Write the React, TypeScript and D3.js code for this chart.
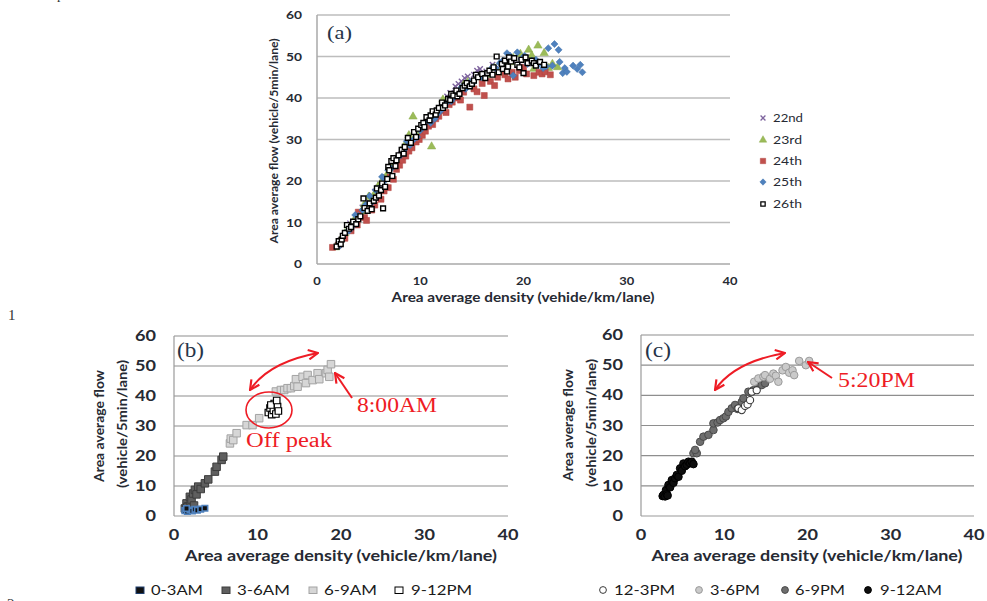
import React from 'react';
import * as d3 from 'd3';

type P = [number, number];

const xTicks = [0, 10, 20, 30, 40];
const yTicks = [0, 10, 20, 30, 40, 50, 60];

// ---------- Panel (a): days ----------
const dayLabels = ['22nd', '23rd', '24th', '25th', '26th'];
const day22: P[] = [[2.0,4.6],[2.3,5.8],[2.6,6.8],[3.2,9.8],[3.5,9.8],[3.9,11.2],[4.1,11.9],[4.4,13.6],[4.7,14.8],[5.0,15.0],[5.3,16.6],[5.6,17.4],[5.9,18.4],[6.1,19.2],[6.4,20.4],[6.7,21.0],[7.0,22.2],[7.2,23.4],[7.5,24.4],[7.8,25.0],[8.1,26.4],[8.3,27.6],[8.6,28.4],[8.9,29.0],[9.2,30.2],[9.5,31.2],[9.8,31.6],[10.0,32.4],[10.3,33.6],[10.6,34.2],[11.0,34.8],[11.2,35.6],[11.5,36.6],[11.8,37.4],[12.3,38.6],[12.6,40.4],[12.9,41.2],[13.4,42.8],[13.7,43.4],[14.0,44.0],[14.3,44.8],[14.6,45.2],[15.2,45.6],[15.5,46.6],[15.8,47.0],[16.1,45.6],[16.4,46.4],[17.0,48.0],[17.3,46.4],[17.6,47.2],[18.0,47.6],[18.3,48.6],[18.9,49.4],[19.6,48.2],[20.3,49.6],[21.0,48.4]];
const day23: P[] = [[1.8,4.0],[2.1,5.2],[2.4,6.2],[2.7,7.4],[3.0,8.2],[3.3,9.6],[3.6,10.6],[3.9,11.4],[4.3,12.6],[4.6,14.4],[5.0,16.2],[5.3,15.6],[5.6,17.0],[5.9,18.6],[6.2,19.6],[6.5,20.4],[6.8,21.6],[7.0,23.2],[7.3,24.2],[7.6,24.0],[7.9,25.2],[8.2,26.6],[8.5,28.6],[8.9,31.0],[9.3,35.5],[9.8,31.4],[10.1,32.4],[10.4,33.6],[10.8,34.2],[11.1,28.3],[11.5,36.2],[11.8,37.0],[12.2,39.6],[12.5,39.0],[12.9,40.2],[13.3,40.8],[13.6,41.2],[14.2,43.2],[14.6,43.8],[15.0,43.0],[15.8,45.2],[16.1,44.8],[16.5,45.6],[17.2,47.2],[17.5,46.0],[17.8,46.6],[18.4,48.2],[18.7,48.6],[19.0,49.6],[19.7,50.6],[20.0,49.4],[20.5,51.6],[20.8,50.2],[21.4,52.6],[22.0,50.8],[21.0,47.0],[22.4,47.2],[22.8,48.2],[23.3,47.4]];
const day24: P[] = [[1.5,4.0],[2.1,4.6],[2.7,6.2],[3.3,8.0],[3.9,9.4],[4.0,12.5],[4.6,11.2],[4.8,10.5],[5.3,13.0],[5.6,14.2],[5.9,16.0],[6.2,15.6],[6.5,17.6],[6.9,18.4],[7.1,21.0],[7.4,20.4],[7.7,22.8],[8.0,23.8],[8.3,25.0],[8.6,26.0],[8.9,27.2],[9.2,28.0],[9.6,29.4],[9.9,30.0],[10.2,31.0],[10.5,32.0],[10.8,33.2],[11.2,33.6],[11.5,35.0],[11.8,35.6],[12.1,37.0],[12.5,36.5],[12.8,38.4],[13.1,39.0],[13.5,40.0],[13.9,39.5],[14.8,37.8],[14.2,41.4],[15.2,42.2],[15.5,41.5],[16.0,43.5],[16.2,40.6],[16.8,44.0],[17.2,43.0],[17.5,45.0],[18.2,45.6],[18.5,44.6],[18.9,46.2],[19.2,45.0],[19.6,46.6],[20.0,47.4],[20.3,45.8],[21.0,45.4],[21.5,46.2],[21.8,45.8],[22.1,46.3],[22.6,45.6]];
const day25: P[] = [[2.2,4.4],[2.8,7.6],[3.1,8.0],[3.4,9.0],[3.7,11.8],[4.0,11.6],[4.4,13.0],[4.7,14.2],[5.1,16.4],[5.4,15.0],[5.7,17.8],[6.0,18.2],[6.3,21.0],[6.6,20.2],[6.9,22.6],[7.2,23.0],[7.5,24.8],[7.8,25.6],[8.1,26.2],[8.4,27.4],[8.7,29.6],[9.0,28.6],[9.3,29.8],[9.7,30.6],[10.0,32.2],[10.3,33.0],[10.7,34.6],[11.0,34.0],[11.4,35.0],[11.7,36.2],[12.0,37.0],[12.3,38.4],[12.6,39.0],[13.0,39.2],[13.3,40.2],[13.7,41.0],[14.0,42.6],[14.4,42.2],[14.8,43.8],[15.1,43.6],[15.5,45.2],[15.9,45.0],[16.2,45.0],[16.6,46.2],[17.0,47.4],[17.3,47.2],[17.7,48.4],[18.0,49.0],[18.4,50.8],[18.7,50.2],[19.0,45.4],[19.4,51.0],[19.8,49.4],[20.1,50.2],[20.4,48.2],[20.8,49.0],[21.2,49.2],[21.5,48.2],[21.9,47.2],[22.2,47.6],[22.4,52.0],[22.8,47.8],[23.0,53.0],[23.4,51.6],[23.5,48.7],[23.8,46.0],[24.0,47.2],[24.2,46.3],[24.8,47.8],[25.2,47.0],[25.5,48.0],[25.7,46.2]];
const day26: P[] = [[1.9,4.2],[2.1,5.5],[2.3,4.8],[2.4,5.9],[2.5,6.8],[2.7,7.5],[2.9,9.4],[3.1,8.5],[3.3,8.9],[3.5,10.2],[3.8,9.6],[4.0,10.8],[4.2,11.5],[4.5,15.8],[4.6,13.5],[4.9,12.8],[5.1,14.6],[5.3,13.2],[5.5,15.2],[5.7,16.0],[5.8,18.2],[6.0,16.5],[6.2,17.8],[6.4,13.4],[6.3,19.4],[6.6,18.6],[6.8,20.5],[6.9,23.4],[7.0,22.6],[7.2,24.8],[7.4,25.5],[7.3,21.2],[7.6,23.6],[7.7,25.0],[7.9,26.2],[8.2,27.5],[8.4,26.6],[8.5,28.2],[8.8,30.4],[9.1,29.2],[9.4,31.8],[9.6,30.6],[9.8,32.6],[10.1,33.5],[10.3,34.0],[10.4,33.0],[10.6,35.4],[10.9,34.6],[11.0,35.8],[11.2,36.8],[11.5,36.0],[11.6,37.0],[11.8,37.6],[12.1,38.9],[12.2,37.6],[12.4,38.2],[12.7,39.8],[12.9,39.5],[13.0,41.0],[13.2,40.6],[13.5,41.8],[13.6,40.4],[13.8,41.0],[14.1,42.4],[14.3,43.0],[14.5,43.6],[14.8,42.8],[15.0,43.4],[15.2,44.2],[15.4,45.6],[15.6,45.0],[16.0,45.8],[16.3,44.8],[16.5,46.0],[16.7,46.6],[17.0,45.6],[17.1,47.4],[17.4,50.0],[17.6,46.2],[17.9,48.2],[18.0,47.0],[18.2,49.0],[18.4,46.4],[18.5,47.6],[18.6,49.8],[18.8,48.8],[19.1,49.6],[19.4,48.0],[19.6,47.4],[19.8,49.2],[20.0,46.0],[20.2,49.8],[20.4,48.4],[20.8,49.0],[21.0,48.4],[21.2,47.8],[21.6,48.7],[22.0,48.0]];

// ---------- Panel (b): morning ----------
const amLabels = ['0-3AM', '3-6AM', '6-9AM', '9-12PM'];
const am0_3: P[] = [[1.3,1.8],[1.6,1.5],[1.9,2.0],[2.2,1.7],[2.5,2.2],[2.8,1.9],[1.5,2.5],[3.2,2.3],[3.7,2.6]];
const am3_6: P[] = [[1.3,2.5],[1.5,4.2],[1.7,3.2],[1.6,3.0],[2.0,4.8],[1.9,6.4],[2.1,5.5],[2.4,3.5],[2.3,7.5],[2.5,8.7],[2.7,7.2],[2.9,9.8],[3.2,9.0],[3.7,10.9],[4.1,12.2],[4.9,14.8],[5.1,16.4],[5.7,18.7],[5.9,19.8]];
const am6_9: P[] = [[6.7,24.2],[6.8,25.8],[7.1,25.3],[7.5,27.6],[8.7,30.3],[9.4,30.3],[10.2,32.6],[12.2,41.5],[12.8,42.0],[13.2,42.0],[13.6,42.6],[14.0,42.6],[14.4,43.3],[14.6,45.6],[14.8,43.1],[15.4,46.4],[15.8,44.3],[16.0,47.0],[16.6,45.3],[17.2,47.6],[17.4,45.6],[18.2,47.6],[18.4,48.7],[18.6,46.4],[18.8,50.6]];
const am9_12: P[] = [[11.3,34.5],[11.5,36.0],[11.7,33.8],[11.9,35.2],[12.0,37.5],[12.2,34.0],[12.4,36.5],[12.5,35.0],[11.6,37.0],[12.3,38.5]];

// ---------- Panel (c): afternoon ----------
const pmLabels = ['12-3PM', '3-6PM', '6-9PM', '9-12AM'];
const pm12_3: P[] = [[11.7,35.7],[12.1,35.1],[12.5,36.5],[12.8,37.0],[13.1,38.4],[13.3,41.2],[13.9,41.7]];
const pm3_6: P[] = [[13.6,44.5],[14.1,45.6],[14.7,46.2],[14.9,46.7],[15.5,45.5],[15.9,47.2],[16.2,46.5],[16.5,44.5],[17.0,48.3],[17.4,49.4],[17.8,47.5],[18.2,48.3],[18.4,46.7],[19.0,51.4],[19.8,50.0],[20.2,51.4]];
const pm6_9: P[] = [[6.3,20.8],[6.7,20.8],[6.5,21.9],[7.1,24.6],[7.5,26.3],[8.1,26.9],[8.7,28.5],[8.7,30.7],[9.2,31.0],[9.5,31.8],[9.9,32.4],[10.2,33.0],[10.5,34.5],[10.9,35.7],[11.3,36.8],[11.6,35.5],[12.1,37.8],[12.3,39.0],[12.9,41.2],[13.5,41.7],[14.1,43.4],[14.5,43.4],[14.9,44.0]];
const am9_12c: P[] = [[2.6,6.6],[2.7,7.0],[2.9,6.5],[3.0,8.6],[3.1,7.2],[3.2,6.8],[3.3,10.3],[3.5,9.5],[3.7,11.9],[3.9,11.0],[4.1,12.5],[4.3,13.6],[4.5,13.0],[4.7,15.8],[4.9,15.0],[5.1,17.4],[5.3,16.5],[5.5,17.0],[5.7,18.0],[5.9,17.5],[6.1,18.0],[6.3,17.2]];

const SANS = "Lato, 'Open Sans', sans-serif";
const SERIF = "'Liberation Serif', 'DejaVu Serif', serif";
const RED = '#ee1c25';
const INK = '#262a33';

const sq = (s: number) => d3.symbol().type(d3.symbolSquare).size(s * s)() as string;
const tri = d3.symbol().type(d3.symbolTriangle).size(30)() as string;
const cross = 'M-2.7,-2.7L2.7,2.7M-2.7,2.7L2.7,-2.7';

function T(props: any) {
  const { x, y, children, size = 12, weight = 700, anchor = 'start', len, fill = INK, family = SANS, rotate } = props;
  return (
    <text
      x={x}
      y={y}
      fontSize={size}
      fontWeight={weight}
      textAnchor={anchor}
      fill={fill}
      fontFamily={family}
      textLength={len}
      lengthAdjust={len ? 'spacingAndGlyphs' : undefined}
      transform={rotate ? `rotate(-90 ${x} ${y})` : undefined}
    >
      {children}
    </text>
  );
}

function Frame(props: any) {
  const { x, y, grid, gridW, axis, tickSize, xPer, yPer, xTickY, yTickX, yDy } = props;
  const [x0, x1] = x.range();
  return (
    <g>
      {yTicks.map((t) => (
        <line key={'g' + t} x1={x0} x2={x1} y1={y(t)} y2={y(t)} stroke={t === 0 ? axis : grid} strokeWidth={gridW} />
      ))}
      <line x1={x0} x2={x0} y1={y(60)} y2={y(0)} stroke={axis} strokeWidth={gridW} />
      {yTicks.map((t) => (
        <T key={'y' + t} x={yTickX} y={y(t) + yDy} size={tickSize} anchor="end" len={String(t).length * yPer}>{t}</T>
      ))}
      {xTicks.map((t) => (
        <T key={'x' + t} x={x(t)} y={xTickY} size={tickSize} anchor="middle" len={String(t).length * xPer}>{t}</T>
      ))}
    </g>
  );
}

function Pts(props: any) {
  const { data, x, y, d, fill, stroke, sw = 1, rot = 0 } = props;
  return (
    <g>
      {data.map((p: P, i: number) => (
        <path key={i} d={d} fill={fill} stroke={stroke} strokeWidth={sw}
          transform={`translate(${x(p[0])},${y(p[1])})${rot ? ` rotate(${rot})` : ''}`} />
      ))}
    </g>
  );
}

function Circ(props: any) {
  const { data, x, y, r, fill, stroke, sw = 1 } = props;
  return (
    <g>
      {data.map((p: P, i: number) => (
        <circle key={i} cx={x(p[0])} cy={y(p[1])} r={r} fill={fill} stroke={stroke} strokeWidth={sw} />
      ))}
    </g>
  );
}

export default function App() {
  const xA = d3.scaleLinear().domain([0, 40]).range([317, 730]);
  const yA = d3.scaleLinear().domain([0, 60]).range([264, 15]);
  const xB = d3.scaleLinear().domain([0, 40]).range([174, 508]);
  const yB = d3.scaleLinear().domain([0, 60]).range([516, 336]);
  const xC = d3.scaleLinear().domain([0, 40]).range([641, 974]);
  const yC = d3.scaleLinear().domain([0, 60]).range([516, 335]);

  const daySeries = [
    { data: day22, d: cross, fill: 'none', stroke: '#7e649e', sw: 1.4, rot: 0 },
    { data: day23, d: tri, fill: '#9bbb59', stroke: '#8aab48', sw: 0.5, rot: 0 },
    { data: day24, d: sq(6), fill: '#c0504d', stroke: '#b0403d', sw: 0.5, rot: 0 },
    { data: day25, d: sq(5), fill: '#4f81bd', stroke: '#4072ae', sw: 0.5, rot: 45 },
    { data: day26, d: sq(4.8), fill: '#ffffff', stroke: '#000000', sw: 1.4, rot: 0 },
  ];
  const legendA = [118, 140, 161, 182, 204];

  const amStyles = [
    { fill: '#111111', stroke: '#4f81bd' },
    { fill: '#5f5f5f', stroke: '#3c3c3c' },
    { fill: '#d6d6d6', stroke: '#a3a3a3' },
    { fill: '#ffffff', stroke: '#000000' },
  ];
  const pmStyles = [
    { fill: '#ffffff', stroke: '#3a3a3a' },
    { fill: '#cacaca', stroke: '#9a9a9a' },
    { fill: '#6e6e6e', stroke: '#4a4a4a' },
    { fill: '#0e0e0e', stroke: '#000000' },
  ];
  const amLeg = [{ m: 140, t: 151, w: 52 }, { m: 226, t: 237, w: 53 }, { m: 313, t: 324, w: 53 }, { m: 399, t: 411, w: 61 }];
  const pmLeg = [{ m: 603, t: 614, w: 61 }, { m: 699, t: 710, w: 50 }, { m: 785, t: 795, w: 50 }, { m: 868, t: 880, w: 62 }];

  return (
    <svg width={987} height={601} viewBox="0 0 987 601" style={{ position: 'absolute', left: 0, top: 0 }}>
      <defs>
        <marker id="ah" viewBox="0 0 10 10" refX="9" refY="5" markerWidth="12" markerHeight="12"
          markerUnits="userSpaceOnUse" orient="auto-start-reverse">
          <path d="M1,1 L9,5 L1,9" fill="none" stroke={RED} strokeWidth={1.8} strokeLinejoin="miter" />
        </marker>
      </defs>
      <rect x={0} y={0} width={987} height={601} fill="#ffffff" />

      {/* page fragments (cut at the page edges as in the source) */}
      <T x={57} y={-1} size={14} weight={400} family={SERIF} fill="#333">p</T>
      <T x={8} y={320} size={15} weight={400} family={SERIF} fill="#333">1</T>
      <T x={7} y={609} size={15} weight={400} family={SERIF} fill="#333">2</T>

      {/* ===== Panel (a) ===== */}
      <Frame x={xA} y={yA} grid="#bdbdbd" gridW={1.5} axis="#a8a8a8" tickSize={12} xPer={7.5} yPer={8}
        xTickY={285} yTickX={302} yDy={4} />
      {daySeries.map((s, i) => (
        <Pts key={i} data={s.data} x={xA} y={yA} d={s.d} fill={s.fill} stroke={s.stroke} sw={s.sw} rot={s.rot} />
      ))}
      <T x={327} y={39} size={18} weight={400} family={SERIF} fill="#263448" len={25}>(a)</T>
      <T x={523} y={302} size={12.5} anchor="middle" len={263}>Area average density (vehide/km/lane)</T>
      <T x={278} y={141} size={11.5} anchor="middle" rotate len={205}>Area average flow (vehicle/5min/lane)</T>
      {daySeries.map((s, i) => (
        <g key={'la' + i}>
          <path d={s.d} fill={s.fill} stroke={s.stroke} strokeWidth={s.sw}
            transform={`translate(763,${legendA[i]})${s.rot ? ` rotate(${s.rot})` : ''} scale(0.9)`} />
          <T x={773} y={legendA[i] + 4} size={12} weight={400} len={i === 0 ? 30 : 29}>{dayLabels[i]}</T>
        </g>
      ))}

      {/* ===== Panel (b) ===== */}
      <Frame x={xB} y={yB} grid="#8e8e8e" gridW={1.2} axis="#9a9a9a" tickSize={15} xPer={10.5} yPer={10.5}
        xTickY={540} yTickX={156} yDy={5} />
      <Pts data={am3_6} x={xB} y={yB} d={sq(7.5)} fill={amStyles[1].fill} stroke={amStyles[1].stroke} sw={1} />
      <Pts data={am0_3} x={xB} y={yB} d={sq(5.5)} fill={amStyles[0].fill} stroke={amStyles[0].stroke} sw={1.6} />
      <Pts data={am6_9} x={xB} y={yB} d={sq(7.5)} fill={amStyles[2].fill} stroke={amStyles[2].stroke} sw={1} />
      <Pts data={am9_12} x={xB} y={yB} d={sq(6.5)} fill={amStyles[3].fill} stroke={amStyles[3].stroke} sw={1.2} />
      <T x={177} y={357} size={20} weight={400} family={SERIF} fill="#263448" len={27}>(b)</T>
      <T x={341} y={561} size={14.5} anchor="middle" len={312}>Area average density  (vehicle/km/lane)</T>
      <T x={104} y={426} size={14} anchor="middle" rotate len={112}>Area average flow</T>
      <T x={127} y={424} size={14} anchor="middle" rotate len={128}>(vehicle/5min/lane)</T>
      <ellipse cx={269} cy={410} rx={23} ry={18} fill="none" stroke={RED} strokeWidth={1.6} />
      <path d="M250,390 Q269,362 318,353" fill="none" stroke={RED} strokeWidth={2}
        markerStart="url(#ah)" markerEnd="url(#ah)" />
      <line x1={352} y1={398} x2={335} y2={373} stroke={RED} strokeWidth={2} markerEnd="url(#ah)" />
      <T x={357} y={412} size={20} weight={400} family={SERIF} fill={RED} len={80}>8:00AM</T>
      <T x={246} y={447} size={20} weight={400} family={SERIF} fill={RED} len={86}>Off peak</T>

      {/* ===== Panel (c) ===== */}
      <Frame x={xC} y={yC} grid="#8e8e8e" gridW={1.2} axis="#9a9a9a" tickSize={15} xPer={10.5} yPer={10.5}
        xTickY={540} yTickX={623} yDy={5} />
      <Circ data={am9_12c} x={xC} y={yC} r={3.8} fill={pmStyles[3].fill} stroke={pmStyles[3].stroke} />
      <Circ data={pm6_9} x={xC} y={yC} r={3.8} fill={pmStyles[2].fill} stroke={pmStyles[2].stroke} />
      <Circ data={pm12_3} x={xC} y={yC} r={3.6} fill={pmStyles[0].fill} stroke={pmStyles[0].stroke} sw={1.1} />
      <Circ data={pm3_6} x={xC} y={yC} r={3.8} fill={pmStyles[1].fill} stroke={pmStyles[1].stroke} />
      <T x={645} y={357} size={20} weight={400} family={SERIF} fill="#263448" len={26}>(c)</T>
      <T x={807} y={561} size={14.5} anchor="middle" len={311}>Area average density (vehicle/km/lane)</T>
      <T x={573} y={425} size={14} anchor="middle" rotate len={112}>Area average flow</T>
      <T x={596} y={423} size={14} anchor="middle" rotate len={128}>(vehicle/5min/lane)</T>
      <path d="M715,390 Q734,362 785,353" fill="none" stroke={RED} strokeWidth={2}
        markerStart="url(#ah)" markerEnd="url(#ah)" />
      <line x1={832} y1={378} x2={808} y2={362} stroke={RED} strokeWidth={2} markerEnd="url(#ah)" />
      <T x={838} y={387} size={20} weight={400} family={SERIF} fill={RED} len={77}>5:20PM</T>

      {/* ===== bottom legends ===== */}
      {amLabels.map((lab, i) => (
        <g key={'lb' + i}>
          <rect x={amLeg[i].m - 4} y={587} width={8} height={6.5} fill={amStyles[i].fill}
            stroke={i === 0 ? '#1f3f6f' : amStyles[i].stroke} strokeWidth={1} />
          <T x={amLeg[i].t} y={595} size={14} weight={400} fill="#1a1a1a" len={amLeg[i].w}>{lab}</T>
        </g>
      ))}
      {pmLabels.map((lab, i) => (
        <g key={'lc' + i}>
          <circle cx={pmLeg[i].m} cy={590} r={3.4} fill={pmStyles[i].fill} stroke={pmStyles[i].stroke} strokeWidth={1} />
          <T x={pmLeg[i].t} y={595} size={14} weight={400} fill="#1a1a1a" len={pmLeg[i].w}>{lab}</T>
        </g>
      ))}
    </svg>
  );
}
